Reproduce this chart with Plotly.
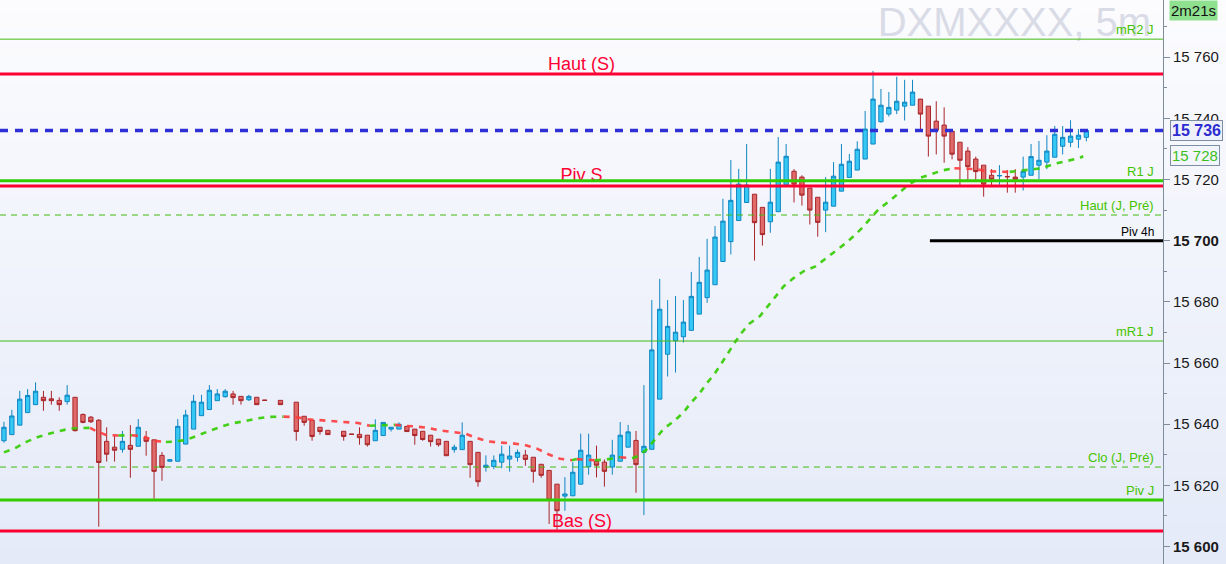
import plotly.graph_objects as go

# ---------------- data ----------------
# 5-minute bar slots (a few slots have no printed bar)
slots = list(range(0, 34)) + [35] + list(range(37, 42)) + list(range(43, 138))

opens = [15634.6, 15636.6, 15639.7, 15643.8, 15646.4, 15648.8, 15648.3, 15647.8, 15647.4, 15648.8,
         15643.2, 15642.3, 15641.3, 15634.4, 15632.5, 15631.8, 15633.1, 15632.8, 15635.7, 15634.9,
         15629.8, 15627.9, 15627.9, 15633.5, 15638.4, 15642.8, 15644.8, 15647.7, 15649.0, 15649.9,
         15649.1, 15648.0, 15648.8, 15647.9, 15647.8, 15647.2, 15642.6, 15641.3, 15639.0, 15638.0,
         15637.7, 15636.8, 15636.7, 15636.4, 15634.6, 15636.3, 15638.4, 15638.4, 15639.3, 15638.4,
         15637.7, 15636.4, 15635.1, 15634.4, 15631.7, 15631.7, 15634.4, 15630.8, 15625.9, 15626.2,
         15627.6, 15628.6, 15629.2, 15629.9, 15629.2, 15626.9, 15624.9, 15620.4, 15616.5, 15616.6,
         15620.4, 15626.1, 15627.9, 15627.6, 15626.0, 15627.9, 15632.5, 15634.7, 15630.8, 15631.8,
         15648.2, 15662.9, 15667.3, 15668.6, 15670.7, 15676.0, 15681.4, 15685.6, 15693.2, 15699.7,
         15706.6, 15712.5, 15715.2, 15710.9, 15706.2, 15709.5, 15718.2, 15722.7, 15720.8, 15717.2,
         15714.2, 15710.0, 15711.3, 15716.2, 15720.7, 15723.1, 15726.7, 15731.6, 15738.9, 15741.4,
         15742.7, 15744.0, 15744.3, 15746.3, 15744.0, 15739.1, 15737.8, 15735.8, 15732.2, 15729.3,
         15726.7, 15724.7, 15721.4, 15721.2, 15721.0, 15720.8, 15720.8, 15721.4, 15724.7, 15725.7,
         15727.3, 15730.9, 15732.2, 15733.2, 15733.8]
highs = [15640.8, 15644.7, 15650.9, 15651.5, 15653.7, 15650.9, 15650.9, 15648.8, 15652.8, 15648.8,
         15643.5, 15642.7, 15641.7, 15639.0, 15636.3, 15637.8, 15639.7, 15641.7, 15637.8, 15634.9,
         15630.9, 15628.6, 15641.7, 15644.7, 15649.6, 15649.6, 15652.8, 15651.5, 15651.5, 15650.9,
         15649.1, 15649.6, 15648.8, 15647.9, 15647.8, 15647.2, 15642.6, 15641.3, 15639.0, 15638.0,
         15637.7, 15636.8, 15639.0, 15636.4, 15641.6, 15640.6, 15639.0, 15640.6, 15639.3, 15638.4,
         15637.7, 15636.4, 15635.1, 15634.4, 15633.3, 15640.6, 15634.4, 15630.8, 15629.8, 15629.8,
         15633.0, 15633.0, 15631.7, 15631.6, 15629.2, 15626.9, 15624.9, 15620.4, 15622.7, 15627.6,
         15636.9, 15636.9, 15633.0, 15628.5, 15634.9, 15640.7, 15639.8, 15637.8, 15652.8, 15680.6,
         15687.5, 15680.6, 15681.9, 15680.6, 15689.8, 15694.7, 15700.6, 15704.8, 15713.7, 15726.4,
         15723.5, 15731.6, 15715.2, 15710.9, 15723.5, 15733.9, 15731.6, 15723.4, 15721.4, 15717.2,
         15714.2, 15720.8, 15725.7, 15731.6, 15728.4, 15732.5, 15742.4, 15755.5, 15749.6, 15748.6,
         15753.6, 15752.6, 15752.6, 15746.3, 15744.0, 15745.6, 15743.6, 15735.8, 15732.2, 15730.6,
         15727.5, 15724.7, 15723.4, 15724.7, 15723.1, 15723.4, 15727.5, 15731.6, 15732.6, 15734.5,
         15737.5, 15737.5, 15739.4, 15736.5, 15736.5]
lows = [15634.0, 15636.6, 15639.7, 15643.8, 15646.4, 15644.4, 15646.4, 15644.4, 15646.4, 15637.6,
        15640.3, 15640.4, 15606.5, 15627.8, 15627.8, 15630.7, 15622.5, 15632.8, 15629.7, 15615.6,
        15621.5, 15627.7, 15627.9, 15633.5, 15638.4, 15642.8, 15644.8, 15647.7, 15648.7, 15646.4,
        15646.4, 15647.6, 15646.4, 15647.7, 15646.4, 15634.6, 15639.5, 15634.6, 15636.6, 15636.6,
        15634.6, 15636.7, 15633.3, 15632.7, 15634.6, 15636.3, 15637.6, 15638.4, 15637.6, 15633.3,
        15634.6, 15632.7, 15632.7, 15629.7, 15630.7, 15631.7, 15622.5, 15619.6, 15624.5, 15625.3,
        15625.6, 15624.5, 15627.8, 15626.4, 15620.9, 15622.5, 15607.4, 15604.9, 15611.7, 15616.6,
        15620.4, 15623.5, 15622.6, 15619.6, 15623.5, 15627.9, 15632.5, 15617.6, 15610.3, 15631.8,
        15648.2, 15655.6, 15656.9, 15666.7, 15670.7, 15676.0, 15679.7, 15685.6, 15693.2, 15695.5,
        15706.6, 15712.5, 15693.5, 15698.4, 15702.6, 15709.5, 15718.2, 15712.5, 15711.5, 15705.3,
        15701.3, 15702.8, 15711.3, 15716.2, 15720.7, 15723.1, 15726.7, 15731.6, 15738.6, 15740.6,
        15741.4, 15739.3, 15744.3, 15736.3, 15727.5, 15728.2, 15725.5, 15726.6, 15717.9, 15719.7,
        15719.7, 15714.4, 15717.7, 15718.3, 15715.7, 15715.7, 15716.4, 15721.4, 15720.1, 15723.4,
        15727.3, 15728.2, 15730.6, 15730.3, 15732.5]
closes = [15639.0, 15642.7, 15648.2, 15649.4, 15650.8, 15647.7, 15647.7, 15646.4, 15649.5, 15637.9,
          15640.6, 15640.8, 15627.5, 15630.2, 15631.5, 15634.4, 15631.8, 15639.0, 15634.4, 15624.6,
          15625.9, 15628.4, 15639.3, 15643.0, 15647.5, 15647.2, 15651.1, 15649.9, 15650.8, 15648.7,
          15647.7, 15649.1, 15646.4, 15647.8, 15646.4, 15637.6, 15640.6, 15636.0, 15637.6, 15636.6,
          15636.0, 15636.7, 15635.6, 15633.3, 15638.0, 15640.6, 15639.0, 15640.0, 15637.6, 15636.3,
          15635.0, 15634.3, 15633.3, 15629.7, 15632.5, 15636.4, 15626.8, 15621.2, 15626.6, 15628.2,
          15630.2, 15629.6, 15630.8, 15628.5, 15624.6, 15623.3, 15615.2, 15611.7, 15617.2, 15624.3,
          15631.5, 15629.9, 15626.6, 15624.6, 15629.9, 15636.4, 15637.5, 15626.8, 15632.8, 15664.3,
          15677.6, 15672.0, 15670.1, 15673.4, 15681.8, 15686.4, 15690.4, 15701.2, 15706.4, 15713.2,
          15718.5, 15718.2, 15705.9, 15702.0, 15712.6, 15725.7, 15727.6, 15718.5, 15714.9, 15710.0,
          15706.0, 15712.6, 15721.1, 15725.0, 15726.0, 15729.9, 15736.5, 15746.3, 15744.3, 15743.6,
          15745.6, 15745.3, 15748.6, 15741.4, 15734.2, 15736.1, 15734.2, 15728.3, 15726.3, 15724.2,
          15722.6, 15718.5, 15720.1, 15721.3, 15720.9, 15720.1, 15722.7, 15727.5, 15726.3, 15729.3,
          15734.8, 15733.8, 15734.2, 15734.5, 15736.0]

# moving average (dashed line), sampled along the curve
ma_slot = [0.0, 1.5, 2.9, 4.3, 5.8, 7.3, 8.4, 9.4, 10.9, 11.5, 12.9, 14.5, 16.2, 17.6, 19.0, 20.5,
           21.4, 23.0, 24.5, 25.9, 27.4, 28.9, 30.5, 32.0, 33.6, 35.4, 37.0, 38.5, 40.1, 41.7, 43.3,
           44.8, 46.3, 48.0, 49.5, 50.5, 52.0, 53.6, 55.2, 56.7, 58.4, 59.7, 61.2, 62.8, 64.3, 65.9,
           67.4, 68.9, 70.4, 71.9, 72.5, 73.3, 74.8, 76.3, 78.0, 79.5, 80.3, 81.4, 82.5, 83.5, 84.8,
           86.0, 86.9, 88.0, 88.9, 89.9, 90.8, 91.6, 92.5, 93.4, 94.3, 95.7, 96.7, 97.7, 98.7, 99.9,
           101.2, 102.7, 103.9, 105.2, 106.4, 107.6, 108.7, 109.8, 110.8, 112.1, 113.3, 114.5, 115.8,
           117.3, 118.8, 120.3, 121.4, 123.0, 124.5, 126.2, 127.3, 128.4, 130.0, 131.4, 132.9, 134.5,
           136.1, 136.6]
ma_val = [15630.8, 15632.3, 15634.3, 15635.8, 15637.0, 15638.0, 15638.6, 15638.7, 15638.8, 15638.0,
          15636.5, 15636.3, 15636.4, 15636.0, 15634.6, 15634.2, 15634.3, 15634.8, 15636.4, 15637.7,
          15639.1, 15640.3, 15641.0, 15641.9, 15642.4, 15642.5, 15642.3, 15641.6, 15641.3, 15640.8,
          15640.7, 15640.4, 15639.5, 15639.7, 15639.8, 15639.5, 15639.3, 15638.8, 15638.0, 15637.4,
          15636.9, 15635.6, 15634.4, 15634.0, 15633.8, 15633.2, 15632.1, 15630.2, 15628.7, 15628.2,
          15628.6, 15628.5, 15628.2, 15628.5, 15629.2, 15628.9, 15629.6, 15631.9, 15635.5, 15638.5,
          15641.0, 15643.8, 15646.9, 15649.9, 15653.2, 15656.3, 15659.8, 15663.2, 15666.7, 15670.0,
          15672.8, 15675.4, 15678.7, 15681.9, 15685.1, 15687.7, 15690.0, 15691.6, 15694.0, 15696.3,
          15698.9, 15701.6, 15704.4, 15707.7, 15710.5, 15713.0, 15715.6, 15718.3, 15720.4, 15721.7,
          15723.0, 15723.7, 15723.6, 15723.4, 15722.7, 15722.6, 15722.5, 15722.8, 15723.1, 15723.7,
          15725.1, 15726.1, 15727.0, 15727.6]

# horizontal levels
level_names = ["mR2 J", "Haut (S)", "R1 J", "Piv S", "Haut (J, Pré)", "Piv 4h",
               "mR1 J", "Clo (J, Pré)", "Piv J", "Bas (S)"]
level_values = [15765.9, 15754.5, 15719.6, 15717.9, 15708.4, 15700.0,
                15667.2, 15626.0, 15615.2, 15605.1]
piv4h_start_slot = 117.2

last_price = 15736
ma_last = 15728
countdown = "2m21s"
title = "DXMXXXX, 5m"

y_ticks = [15600, 15620, 15640, 15660, 15680, 15700, 15720, 15740, 15760]
bold_ticks = [15600, 15700]

# ---------------- styling ----------------
GREEN = "#33cc00"
GREEN_TXT = "#44c400"
RED = "#ff0033"
FONT = "Liberation Sans, Arial, sans-serif"
X_RANGE = [-0.5, 146.7]
Y_RANGE = [15594.3, 15778.7]
X_DOMAIN = [0, 1163 / 1226]

fig = go.Figure()

# background gradient (bands)
top = (252, 252, 254)
bot = (228, 234, 248)
n = 40
for i in range(n):
    t = (i + 0.5) / n
    c = tuple(round(top[k] + (bot[k] - top[k]) * t) for k in range(3))
    fig.add_shape(type="rect", xref="paper", yref="paper", x0=0, x1=1,
                  y0=1 - (i + 1) / n, y1=1 - i / n + 0.001,
                  fillcolor="rgb(%d,%d,%d)" % c, line_width=0, layer="below")

# watermark title (as trace so lines draw over it)
fig.add_trace(go.Scatter(x=[X_RANGE[1] - 1.5], y=[Y_RANGE[1] - 8.6], mode="text", text=[title],
                         textposition="middle left",
                         textfont=dict(family=FONT, size=40, color="#d9dce6"),
                         hoverinfo="skip", showlegend=False, cliponaxis=False))

# moving average, coloured by direction
runs = []
cur_col = None
for i in range(1, len(ma_val)):
    d = ma_val[i] - ma_val[i - 1]
    col = GREEN if d > 0 else ("#ff3b3b" if d < 0 else (cur_col or GREEN))
    if col != cur_col:
        runs.append([col, [ma_slot[i - 1]], [ma_val[i - 1]]])
        cur_col = col
    runs[-1][1].append(ma_slot[i])
    runs[-1][2].append(ma_val[i])
for col, xs, ys in runs:
    fig.add_trace(go.Scatter(x=xs, y=ys, mode="lines",
                             line=dict(color=col, width=2.6, dash="6px,6px"),
                             opacity=0.9, hoverinfo="skip", showlegend=False))

# candles
fig.add_trace(go.Candlestick(
    x=slots, open=opens, high=highs, low=lows, close=closes,
    increasing=dict(fillcolor="#36c8f4", line=dict(color="#0f86c2", width=1)),
    decreasing=dict(fillcolor="#e06a6a", line=dict(color="#a8262a", width=1)),
    whiskerwidth=0, hoverinfo="skip", showlegend=False))

# "Piv S" label sits under the lines
piv_s = level_values[level_names.index("Piv S")]
fig.add_trace(go.Scatter(x=[sum(X_RANGE) / 2], y=[piv_s], mode="text", text=["Piv S"],
                         textposition="top center",
                         textfont=dict(family=FONT, size=18, color=RED),
                         hoverinfo="skip", showlegend=False))

# level lines
styles = {
    "mR2 J": dict(color="#44bb11", width=1, dash="solid"),
    "Haut (S)": dict(color=RED, width=3, dash="solid"),
    "R1 J": dict(color=GREEN, width=3, dash="solid"),
    "Piv S": dict(color=RED, width=3, dash="solid"),
    "Haut (J, Pré)": dict(color="#44bb11", width=1, dash="6px,5px"),
    "Piv 4h": dict(color="#000000", width=3, dash="solid"),
    "mR1 J": dict(color="#44bb11", width=1, dash="solid"),
    "Clo (J, Pré)": dict(color="#44bb11", width=1, dash="6px,5px"),
    "Piv J": dict(color=GREEN, width=3, dash="solid"),
    "Bas (S)": dict(color=RED, width=3, dash="solid"),
}
for name, val in zip(level_names, level_values):
    st = styles[name]
    if name == "Piv 4h":
        fig.add_shape(type="line", xref="x", yref="y", x0=piv4h_start_slot, x1=X_RANGE[1],
                      y0=val, y1=val, line=st, layer="above")
    else:
        fig.add_shape(type="line", xref="x domain", yref="y", x0=0, x1=1,
                      y0=val, y1=val, line=st, layer="above")

# last price dashed line
fig.add_shape(type="line", xref="x domain", yref="y", x0=0, x1=1, y0=last_price, y1=last_price,
              line=dict(color="#2f2fd6", width=3.5, dash="8px,7px"), layer="above")

# labels
for name, val in zip(level_names, level_values):
    if name in ("Haut (S)", "Bas (S)"):
        fig.add_annotation(xref="x domain", yref="y", x=0.5, y=val, yanchor="bottom",
                           xanchor="center", text=name, showarrow=False, yshift=-2,
                           font=dict(family=FONT, size=18, color=RED))
    elif name == "Piv S":
        continue
    else:
        col = "#000000" if name == "Piv 4h" else GREEN_TXT
        size = 12 if name == "Piv 4h" else 13
        fig.add_annotation(xref="x domain", yref="y", x=0.994, y=val, yanchor="bottom",
                           xanchor="right", text=name, showarrow=False, yshift=0,
                           font=dict(family=FONT, size=size, color=col))

# right side boxes
fig.add_annotation(xref="paper", yref="paper", x=1169 / 1226, y=1, xanchor="left", yanchor="top",
                   text=countdown, showarrow=False, bgcolor="#8fe08f", borderpad=1,
                   font=dict(family=FONT, size=15, color="#111111"))
fig.add_annotation(xref="paper", yref="y", x=1170 / 1226, y=last_price, xanchor="left",
                   yanchor="middle", text="<b>%s</b>" % f"{last_price:,}".replace(",", " "),
                   showarrow=False, bgcolor="#eef1fa", bordercolor="#7d8ea4", borderwidth=1,
                   borderpad=1, font=dict(family=FONT, size=16, color="#2c2cd0"))
fig.add_annotation(xref="paper", yref="y", x=1170 / 1226, y=ma_last, xanchor="left",
                   yanchor="middle", text=f"{ma_last:,}".replace(",", " "),
                   showarrow=False, bgcolor="#f2f5fb", bordercolor="#7d8ea4", borderwidth=1,
                   borderpad=1, font=dict(family=FONT, size=15, color="#3cbf1c"))

tick_text = []
for v in y_ticks:
    s = f"{v:,}".replace(",", " ")
    tick_text.append("<b>%s</b>" % s if v in bold_ticks else s)

fig.update_layout(
    width=1226, height=564, margin=dict(l=0, r=0, t=0, b=0),
    paper_bgcolor="#ffffff", plot_bgcolor="rgba(0,0,0,0)", showlegend=False,
    font=dict(family=FONT), boxgap=0.22,
    xaxis=dict(domain=X_DOMAIN, range=X_RANGE, visible=False, rangeslider=dict(visible=False),
               fixedrange=True),
    yaxis=dict(side="right", range=Y_RANGE, tickmode="array", tickvals=y_ticks, ticktext=tick_text,
               ticks="outside", ticklen=6, tickcolor="#7f8c9c", showline=True, linecolor="#7f8c9c",
               showgrid=False, zeroline=False,
               tickfont=dict(family=FONT, size=15, color="#1a1a1a"),
               minor=dict(tickvals=[v + 10 for v in y_ticks] + [y_ticks[0] - 10], ticks="outside",
                          ticklen=3, tickcolor="#7f8c9c", showgrid=False)),
)

post = ("document.documentElement.style.margin='0';document.body.style.margin='0';"
        "document.body.style.overflow='hidden';")
fig.write_html("out.html", post_script=post, config={"displayModeBar": False})
